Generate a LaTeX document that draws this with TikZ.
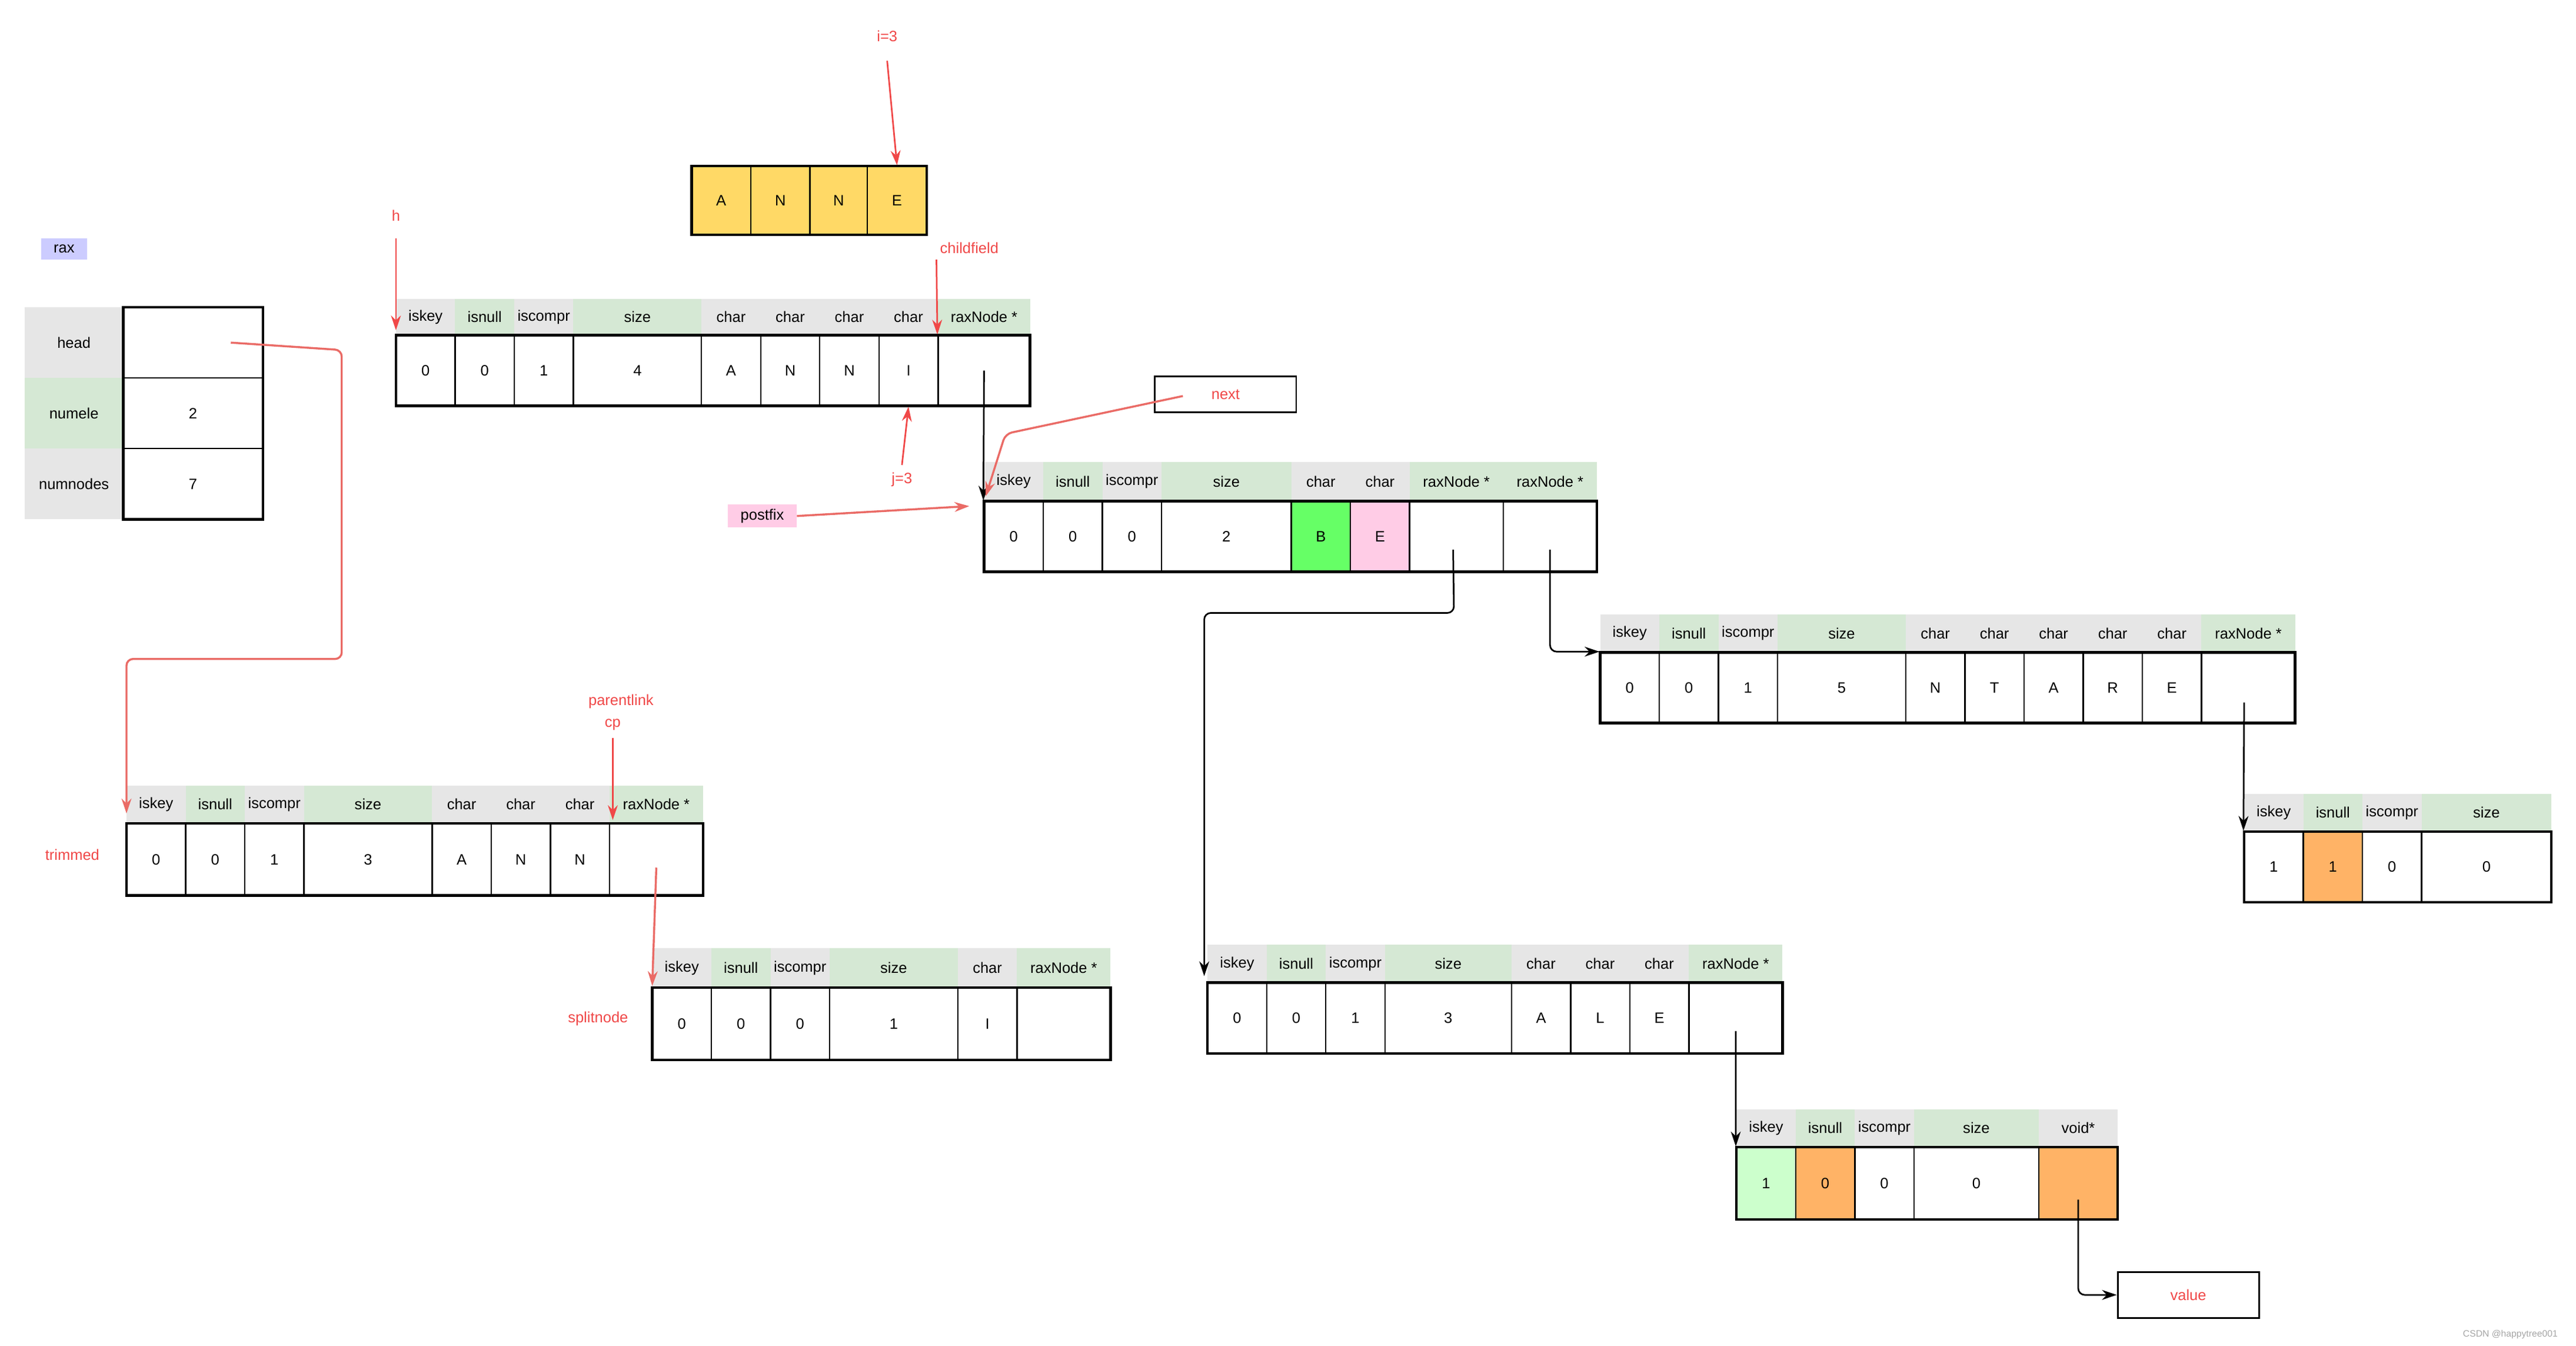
\documentclass[tikz,border=0pt]{standalone}
\usepackage{fontspec}
\setmainfont{Liberation Sans}
\usetikzlibrary{calc,arrows.meta}
\definecolor{G}{HTML}{E6E6E6}
\definecolor{N}{HTML}{D5E8D4}
\definecolor{Y}{HTML}{FFD966}
\definecolor{O}{HTML}{FFB366}
\definecolor{P}{HTML}{FFCCE6}
\definecolor{B}{HTML}{66FF66}
\definecolor{LG}{HTML}{CCFFCC}
\definecolor{LV}{HTML}{CCCCFF}
\definecolor{R}{HTML}{F04848}
\definecolor{RL}{HTML}{EA6B66}
\tikzset{
  lbl/.style={font=\fontsize{26}{30}\selectfont, inner sep=0pt},
  val/.style={font=\fontsize{26}{30}\selectfont, draw=black, line width=2.5pt, inner sep=0pt},
  outer/.style={draw=black, line width=4.5pt},
  rtxt/.style={font=\fontsize{26}{30}\selectfont, text=R, inner sep=0pt},
  blk/.style={draw=black, line width=2.8pt, rounded corners=4mm, -{Stealth[length=9mm,width=6mm]}},
  red/.style={draw=R, line width=2.8pt, rounded corners=4mm, -{Stealth[length=9mm,width=6mm]}},
  redl/.style={draw=RL, line width=3.5pt, rounded corners=4mm, -{Stealth[length=9mm,width=6mm]}},
}
% #1 name, #2 header top, #3 body top, #4 body bottom, #5 list, #6 x start, #7 x end
\newcommand\rstruct[7]{%
  \foreach \a/\b/\h/\v/\hc/\fc [count=\i] in {#5}{%
    \fill[\hc] (\a,#2) rectangle (\b,#3);
    \node[lbl] (#1-h\i) at ({(\a+\b)/2},{(#2+#3)/2}) {\h};
    \node[val, fill=\fc, minimum width={(\b-\a)*1mm}, minimum height={(#4-#3)*1mm}] (#1-\i) at ({(\a+\b)/2},{(#3+#4)/2}) {\v};
  }%
  \draw[outer] (#6,#3) rectangle (#7,#4);
}
\begin{document}
\begin{tikzpicture}[x=1mm,y=-1mm]
\useasboundingbox[fill=white] (0,0) rectangle (1568,819);

% rax
\node[lbl, fill=LV, minimum width=28mm, minimum height=13mm] (rax) at (39,151.5) {rax};
\foreach \t/\v/\c/\ya/\yb [count=\i] in {head//G/187/230, numele/2/N/230/273, numnodes/7/G/273/316}{
  \fill[\c] (15,\ya) rectangle (75,\yb);
  \node[lbl] (Lh\i) at (45,{(\ya+\yb)/2}) {\t};
  \node[val, minimum width=85mm, minimum height=43mm] (L\i) at (117.5,{(\ya+\yb)/2}) {\v};
}
\draw[outer] (75,187) rectangle (160,316);

% ANNE array
\foreach \a/\b/\v [count=\i] in {421/457/A, 457/493/N, 493/528/N, 528/564/E}{
  \node[val, fill=Y, minimum width={(\b-\a)*1mm}, minimum height=42mm] (Q\i) at ({(\a+\b)/2},122) {\v};
}
\draw[outer] (421,101) rectangle (564,143);
\node[rtxt] (i3) at (540,22) {i=3};
\draw[red] ($(i3)+(0,15)$) -- (Q4.north);

% struct 1
\rstruct{s1}{182}{204}{247}{241/277/iskey/0/G/white, 277/313/isnull/0/N/white, 313/349/iscompr/1/G/white, 349/427/size/4/N/white, 427/463/char/A/G/white, 463/499/char/N/G/white, 499/535/char/N/G/white, 535/571/char/I/G/white, 571/627/raxNode */{}/N/white}{241}{627}
\node[rtxt] (h) at (241,131) {h};
\draw[red] ($(h)+(0,14)$) -- (241,201);
\node[rtxt] (cf) at (590,151) {childfield};
\draw[red] (570,158) -- (s1-9.north west);
\node[rtxt] (j3) at (549,292) {j=3};
\draw[red] ($(j3)+(0,-9)$) -- (s1-8.south);

% struct 2
\rstruct{s2}{281}{305}{348}{599/635/iskey/0/G/white, 635/671/isnull/0/N/white, 671/707/iscompr/0/G/white, 707/786/size/2/N/white, 786/822/char/B/G/B, 822/858/char/E/G/P, 858/915/raxNode */{}/N/white, 915/972/raxNode */{}/N/white}{599}{972}
\draw[blk] (s1-9.center) -- (s2-1.north west);
\node[lbl, text=R, draw=black, line width=3pt, minimum width=86mm, minimum height=22mm] (next) at (746,240) {next};
\draw[redl] ($(next)+(-26,1)$) -- (612,264) -- (600,302);
\node[lbl, fill=P, minimum width=42mm, minimum height=14mm] (pf) at (464,314) {postfix};
\draw[redl] (pf.east) -- (590,308);

% struct 3
\rstruct{s3}{374}{397}{440}{974/1010/iskey/0/G/white, 1010/1046/isnull/0/N/white, 1046/1082/iscompr/1/G/white, 1082/1160/size/5/N/white, 1160/1196/char/N/G/white, 1196/1232/char/T/G/white, 1232/1268/char/A/G/white, 1268/1304/char/R/G/white, 1304/1340/char/E/G/white, 1340/1397/raxNode */{}/N/white}{974}{1397}
\draw[blk] ($(s2-8.center)+(0,8)$) |- (s3-1.north west);

% struct 4
\rstruct{s4}{483}{506}{549}{1366/1402/iskey/1/G/white, 1402/1438/isnull/1/N/O, 1438/1474/iscompr/0/G/white, 1474/1553/size/0/N/white}{1366}{1553}
\draw[blk] ($(s3-10.center)+(-2.5,9)$) -- (s4-1.north west);

% struct 5 trimmed
\rstruct{s5}{478}{501}{545}{77/113/iskey/0/G/white, 113/149/isnull/0/N/white, 149/185/iscompr/1/G/white, 185/263/size/3/N/white, 263/299/char/A/G/white, 299/335/char/N/G/white, 335/371/char/N/G/white, 371/428/raxNode */{}/N/white}{77}{428}
\draw[redl] ($(L1.center)+(23,0)$) -- (208,213) -- (208,401) -- (77,401) -- (77,495);
\node[rtxt] (tr) at (44,520) {trimmed};
\node[rtxt] (pl) at (378,427) {parentlink};
\node[rtxt] (cp) at (373,441) {cp};
\draw[red] ($(cp)+(0,8)$) -- (373,499);

% struct 6 splitnode
\rstruct{s6}{577}{601}{645}{397/433/iskey/0/G/white, 433/469/isnull/0/N/white, 469/505/iscompr/0/G/white, 505/583/size/1/N/white, 583/619/char/I/G/white, 619/676/raxNode */{}/N/white}{397}{676}
\draw[redl] ($(s5-8.center)+(0,5)$) -- (397,600);
\node[rtxt] (sn) at (364,620) {splitnode};

% struct 7
\rstruct{s7}{575}{598}{641}{735/771/iskey/0/G/white, 771/807/isnull/0/N/white, 807/843/iscompr/1/G/white, 843/920/size/3/N/white, 920/956/char/A/G/white, 956/992/char/L/G/white, 992/1028/char/E/G/white, 1028/1085/raxNode */{}/N/white}{735}{1085}
\draw[blk] ($(s2-7.center)+(-2,8)$) -- (885,373) -- (733,373) -- (733,594);

% struct 8
\rstruct{s8}{675}{698}{742}{1057/1093/iskey/1/G/LG, 1093/1129/isnull/0/N/O, 1129/1165/iscompr/0/G/white, 1165/1241/size/0/N/white, 1241/1289/void*/{}/G/O}{1057}{1289}
\draw[blk] ($(s7-8.center)+(0,8)$) -- (s8-1.north west);
\node[lbl, text=R, draw=black, line width=3pt, minimum width=86mm, minimum height=28mm] (value) at (1332,788) {value};
\draw[blk] ($(s8-5.center)+(0,10)$) |- (value.west);

\node[font=\fontsize{16}{18}\selectfont, text=gray!70] (wm) at (1528,812) {CSDN @happytree001};
\end{tikzpicture}
\end{document}
